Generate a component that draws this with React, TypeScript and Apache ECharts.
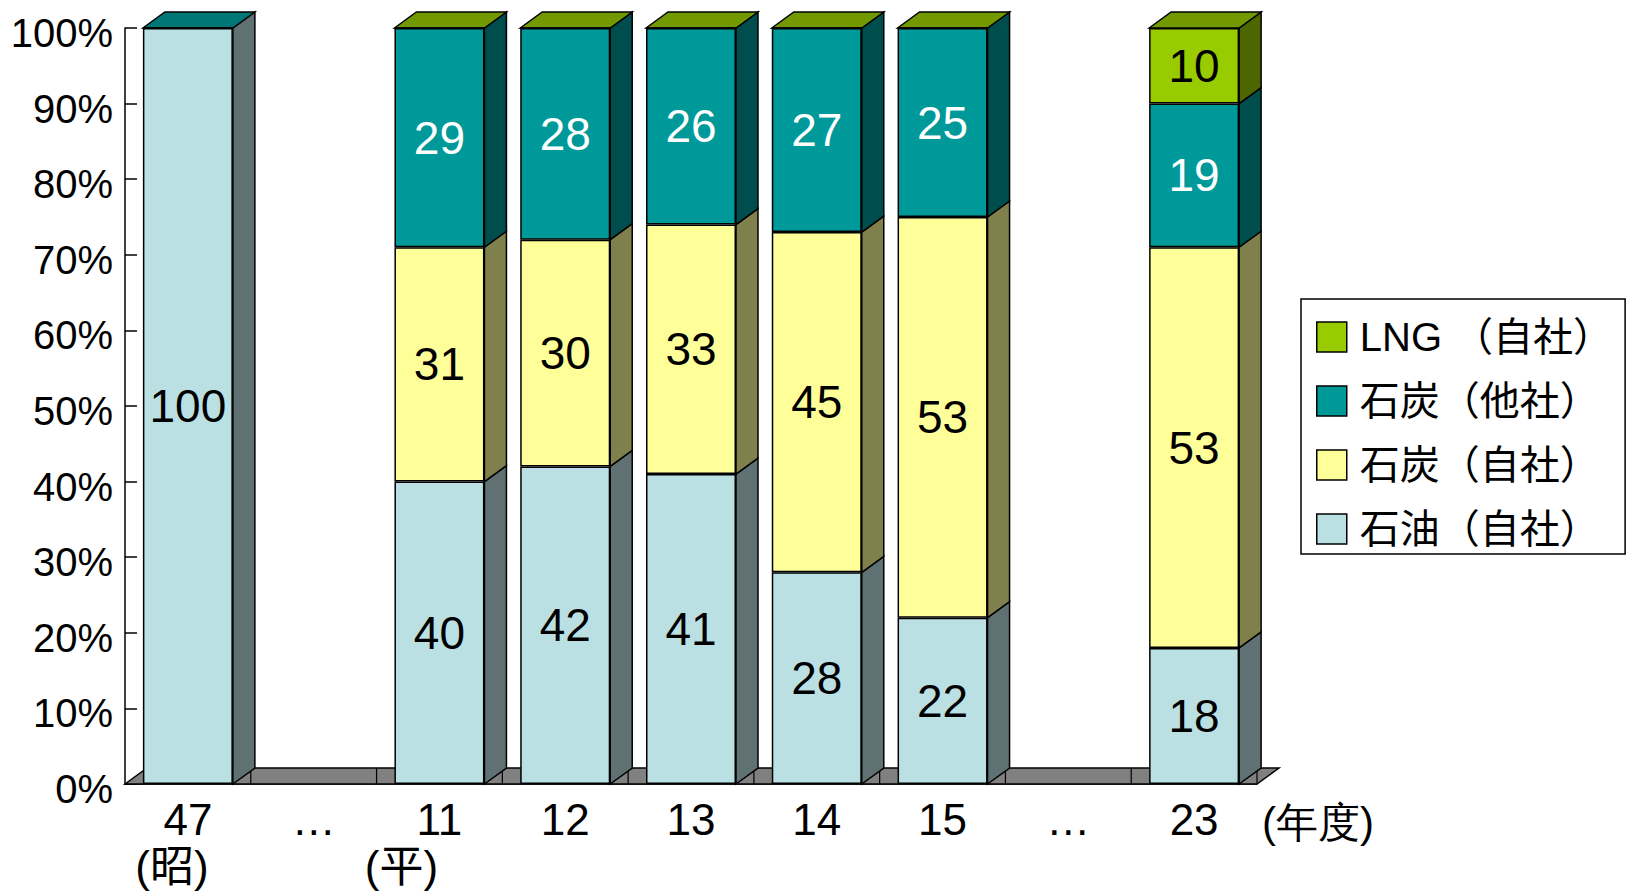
import React, { useEffect, useRef } from 'react';
import * as echarts from 'echarts';

// ---- data ----
const categories = ['47', '…', '11', '12', '13', '14', '15', '…', '23'];
const eraLabels = ['(昭)', '', '(平)', '', '', '', '', '', ''];
const unitLabel = '(年度)';
const seriesNames = ['石油（自社）', '石炭（自社）', '石炭（他社）', 'LNG （自社）'];
const oilSelf = [100, null, 40, 42, 41, 28, 22, null, 18];
const coalSelf = [0, null, 31, 30, 33, 45, 53, null, 53];
const coalOther = [0, null, 29, 28, 26, 27, 25, null, 19];
const lngSelf = [null, null, 0, 0, 0, 0, 0, null, 10];
const legendOrder = ['LNG （自社）', '石炭（他社）', '石炭（自社）', '石油（自社）'];

// ---- styles ----
const FONT = '"Liberation Sans", Arial, "Noto Sans CJK JP", sans-serif';
const frontColors = ['#BBE0E3', '#FFFF99', '#009999', '#99CC00'];
const sideColors = ['#5F7173', '#80804D', '#004D4D', '#4D6600'];
const topColors = ['#8DA9AB', '#BFBF73', '#007777', '#739900'];
const labelColors = ['#000', '#000', '#fff', '#000'];
const BAR_W = 90;
const DX = 22;
const DY = 16;
const EDGE = { stroke: '#000', lineWidth: 1.5 };

const allSeries = [oilSelf, coalSelf, coalOther, lngSelf];

export default function App() {
  const ref = useRef<HTMLDivElement>(null);
  useEffect(() => {
    if (!ref.current) return;
    const chart = echarts.init(ref.current, undefined, { renderer: 'svg' });

    const rich: any = {};
    eraLabels.forEach((e, i) => {
      if (e) rich['e' + i] = { fontSize: 44, lineHeight: 47, fontFamily: FONT, color: '#000', padding: [0, i === 0 ? 32 : 76, 0, 0] };
    });

    const barSeries = allSeries.map((arr, s) => ({
      name: seriesNames[s],
      type: 'bar',
      stack: 'total',
      barWidth: BAR_W,
      z: 3,
      data: arr,
      itemStyle: { color: frontColors[s], borderColor: '#000', borderWidth: 1.5 },
      label: {
        show: true,
        position: 'inside',
        fontSize: 46,
        fontFamily: FONT,
        color: labelColors[s],
        formatter: (p: any) => (p.value > 0 ? String(p.value) : ''),
      },
    }));

    const option: any = {
      animation: false,
      textStyle: { fontFamily: FONT },
      grid: { left: 125, right: 371, top: 28, bottom: 107, containLabel: false },
      legend: {
        data: legendOrder,
        orient: 'vertical',
        left: 1301,
        top: 299,
        itemWidth: 30,
        itemHeight: 30,
        itemGap: 24,
        padding: [18, 12, 5, 15],
        backgroundColor: '#fff',
        borderColor: '#000',
        borderWidth: 1.5,
        icon: 'rect',
        selectedMode: false,
        itemStyle: { borderColor: '#000', borderWidth: 1.5 },
        textStyle: { fontSize: 40, color: '#000', fontFamily: FONT, padding: [0, 0, 0, 8] },
      },
      xAxis: {
        type: 'category',
        data: categories,
        axisLine: { show: true, lineStyle: { color: '#000', width: 1.5 } },
        axisTick: { show: false },
        axisLabel: {
          interval: 0,
          margin: 12,
          fontSize: 44,
          lineHeight: 47,
          color: '#000',
          fontFamily: FONT,
          formatter: (v: string, i: number) => (eraLabels[i] ? `${v}\n{e${i}|${eraLabels[i]}}` : v),
          rich,
        },
      },
      yAxis: {
        type: 'value',
        min: 0,
        max: 100,
        interval: 10,
        splitLine: { show: false },
        axisLine: { show: true, lineStyle: { color: '#000', width: 1.5 } },
        axisTick: { show: true, inside: true, length: 12, lineStyle: { color: '#000', width: 1.5 } },
        axisLabel: {
          formatter: '{value}%',
          fontSize: 40,
          color: '#000',
          margin: 12,
          verticalAlign: 'top',
          lineHeight: 10,
          fontFamily: FONT,
        },
      },
      graphic: [
        {
          type: 'text',
          left: 1262,
          top: 801,
          style: { text: unitLabel, fontSize: 42, fill: '#000', font: `42px ${FONT}` },
        },
      ],
      series: [
        {
          name: 'floor',
          type: 'custom',
          z: 1,
          clip: false,
          data: [[0, 0]],
          encode: { x: 0, y: 1 },
          renderItem: (params: any, api: any) => {
            const bw = api.size([1, 0])[0];
            const p0 = api.coord([0, 0]);
            const x0 = p0[0] - bw / 2;
            const y0 = p0[1];
            const x1 = api.coord([categories.length - 1, 0])[0] + bw / 2;
            const children: any[] = [
              {
                type: 'polygon',
                shape: { points: [[x0, y0], [x0 + DX, y0 - DY], [x1 + DX, y0 - DY], [x1, y0]] },
                style: { fill: '#808080', ...EDGE },
              },
            ];
            for (let k = 1; k <= categories.length; k++) {
              const xk = x0 + k * bw;
              children.push({ type: 'line', shape: { x1: xk, y1: y0 - DY, x2: xk, y2: y0 }, style: { stroke: '#000', lineWidth: 1.2 } });
            }
            return { type: 'group', children };
          },
        },
        {
          name: 'depth',
          type: 'custom',
          z: 2,
          clip: false,
          data: categories.map((_, i) => [i, 0]),
          encode: { x: 0, y: 1 },
          renderItem: (params: any, api: any) => {
            const i = api.value(0);
            const cx = api.coord([i, 0])[0];
            const x0 = cx - BAR_W / 2;
            const x1 = cx + BAR_W / 2;
            const children: any[] = [];
            let base = 0;
            let topIdx = -1;
            allSeries.forEach((arr, s) => {
              const v = arr[i];
              if (v == null) return;
              topIdx = s;
              if (v > 0) {
                const yb = api.coord([i, base])[1];
                const yt = api.coord([i, base + v])[1];
                children.push({
                  type: 'polygon',
                  shape: { points: [[x1, yb], [x1 + DX, yb - DY], [x1 + DX, yt - DY], [x1, yt]] },
                  style: { fill: sideColors[s], ...EDGE },
                });
                base += v;
              }
            });
            if (topIdx >= 0) {
              const yt = api.coord([i, base])[1];
              children.push({
                type: 'polygon',
                shape: { points: [[x0, yt], [x0 + DX, yt - DY], [x1 + DX, yt - DY], [x1, yt]] },
                style: { fill: topColors[topIdx], ...EDGE },
              });
            }
            return { type: 'group', children };
          },
        },
        ...barSeries,
      ],
    };
    chart.setOption(option);
    return () => chart.dispose();
  }, []);
  return <div ref={ref} style={{ position: 'absolute', left: 0, top: 0, width: 1628, height: 891 }} />;
}
